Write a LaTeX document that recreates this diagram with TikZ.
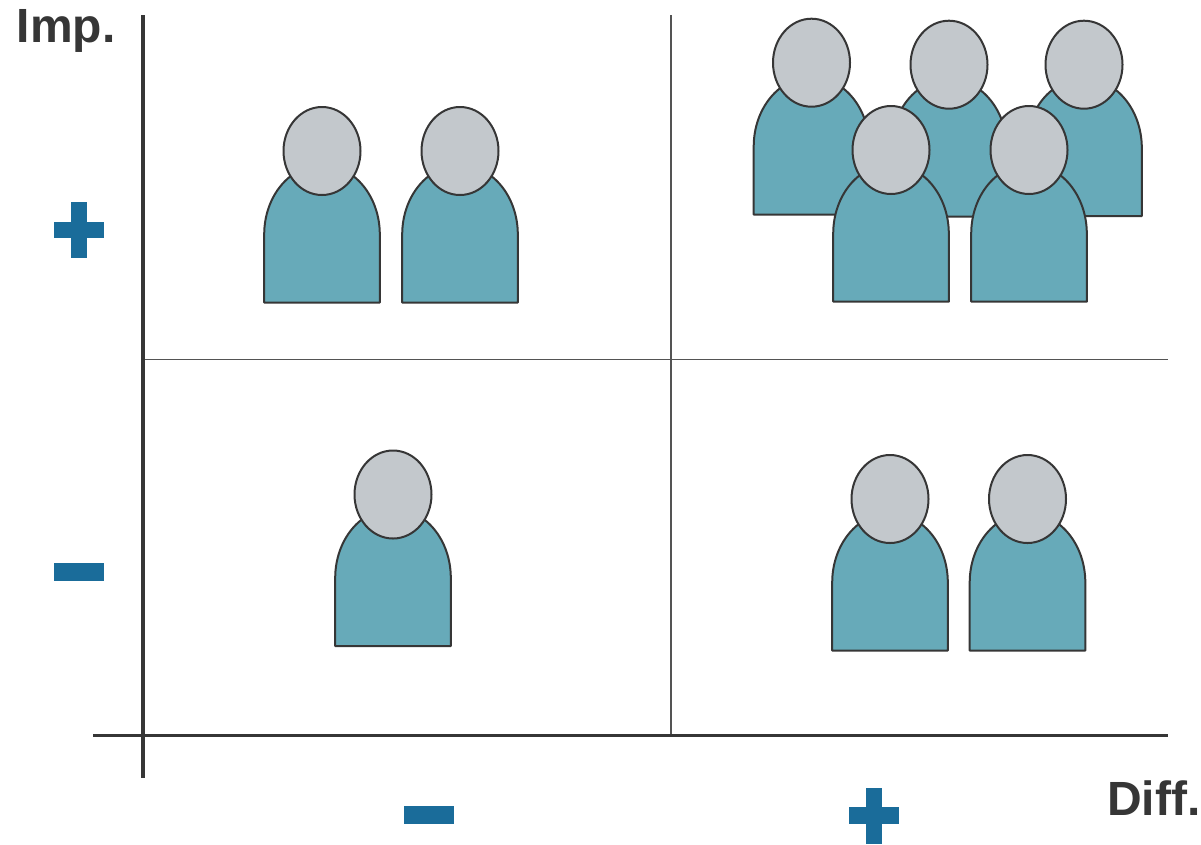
\documentclass[tikz,border=0pt]{standalone}
\usepackage{fontspec}
\setmainfont{Liberation Sans}
\definecolor{teal1}{HTML}{67AAB9}
\definecolor{gray1}{HTML}{C3C8CC}
\definecolor{blue1}{HTML}{1A6C9A}
\definecolor{ink}{HTML}{363636}
\newcommand{\personfig}[3]{% cx, bottom of body, head centre y
  \draw[figline,fill=teal1] (#1-57.8,#2) -- (#1-57.8,#2-68) arc[start angle=180,end angle=360,x radius=57.8,y radius=69.5] -- (#1+57.8,#2) -- cycle;
  \draw[figline,fill=gray1] (#1,#3) ellipse[x radius=38.5,y radius=44];
}
\newcommand{\plusfig}[2]{% centre
  \fill[blue1] (#1-8,#2-28) rectangle (#1+8,#2+28);
  \fill[blue1] (#1-25,#2-8.2) rectangle (#1+25,#2+8.2);
}
\tikzset{
  figline/.style={draw=ink,line width=1.5pt,line join=round},
  axisline/.style={draw=ink,line width=2.4pt},
  gridline/.style={draw=ink!85,line width=0.8pt},
  axislabel/.style={font=\fontsize{36}{38}\selectfont\bfseries,text=ink,inner sep=0pt,anchor=base west}
}
\begin{document}
\begin{tikzpicture}[x=0.75pt,y=-0.75pt]
\useasboundingbox (0,0) rectangle (1201,844);
% grid
\coordinate (vtop) at (671,15);
\coordinate (vbot) at (671,735);
\coordinate (hleft) at (143,359.5);
\coordinate (hright) at (1168,359.5);
\draw[gridline] (vtop) -- (vbot);
\draw[gridline] (hleft) -- (hright);
% axes
\coordinate (ytop) at (143,15);
\coordinate (ybot) at (143,778);
\coordinate (xleft) at (93,735.5);
\coordinate (xright) at (1168,735.5);
\draw[axisline] (ytop) -- (ybot);
\draw[axisline] (xleft) -- (xright);
% labels
\node[axislabel] (imp) at (16.5,42.7) {Imp.};
\node[axislabel] (diff) at (1107,815) {Diff.};
% signs
\plusfig{78.7}{230}
\plusfig{874}{815.5}
\fill[blue1] (54,563) rectangle (104,581);
\fill[blue1] (404,806) rectangle (454,824);
% top-left
\personfig{322}{302.5}{151}
\personfig{460}{302.5}{151}
% top-right, back row
\personfig{811.5}{214.5}{62.7}
\personfig{949}{216.5}{64.7}
\personfig{1084}{216}{64.7}
% top-right, front row
\personfig{891}{301.7}{150}
\personfig{1029}{301.7}{150}
% bottom-left
\personfig{393}{646}{494.5}
% bottom-right
\personfig{890}{650.5}{499}
\personfig{1027.5}{650.5}{499}
\end{tikzpicture}
\end{document}
